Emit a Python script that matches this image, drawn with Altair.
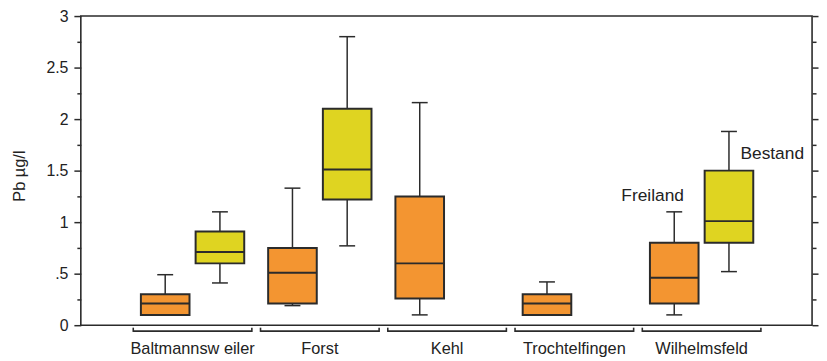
import altair as alt
import pandas as pd

# ---- data ----
sites = ["Baltmannsw eiler", "Forst", "Kehl", "Trochtelfingen", "Wilhelmsfeld"]
series = ["Freiland", "Bestand"]
series_colors = ["#F39531", "#DFD421"]

box_site = ["Baltmannsw eiler", "Baltmannsw eiler", "Forst", "Forst",
            "Kehl", "Trochtelfingen", "Wilhelmsfeld", "Wilhelmsfeld"]
box_series = ["Freiland", "Bestand", "Freiland", "Bestand",
              "Freiland", "Freiland", "Freiland", "Bestand"]
box_min = [0.10, 0.41, 0.19, 0.77, 0.10, 0.10, 0.10, 0.52]
box_q1 = [0.10, 0.60, 0.21, 1.22, 0.26, 0.10, 0.21, 0.80]
box_median = [0.21, 0.71, 0.51, 1.51, 0.60, 0.21, 0.46, 1.01]
box_q3 = [0.30, 0.91, 0.75, 2.10, 1.25, 0.30, 0.80, 1.50]
box_max = [0.49, 1.10, 1.33, 2.80, 2.16, 0.42, 1.10, 1.88]

y_ticks = [0, 0.25, 0.5, 0.75, 1, 1.25, 1.5, 1.75, 2, 2.25, 2.5, 2.75, 3]

note_text = ["Freiland", "Bestand"]
note_x = [3.615, 4.555]
note_y = [1.207, 1.61]

# ---- layout helpers ----
W, H = 738, 312
OFF = {"Freiland": -0.215, "Bestand": 0.215}
BOX_HALF = 0.191
CAP_HALF = 0.0625
BR_HALF = 0.466
INK = "#2b2b2b"
FONT = "Liberation Sans"

boxes = pd.DataFrame({
    "site": box_site, "series": box_series, "min": box_min, "q1": box_q1,
    "median": box_median, "q3": box_q3, "max": box_max,
})
boxes["pos"] = [sites.index(s) + OFF[g] for s, g in zip(box_site, box_series)]
boxes["bl"] = boxes["pos"] - BOX_HALF
boxes["br"] = boxes["pos"] + BOX_HALF
boxes["cl"] = boxes["pos"] - CAP_HALF
boxes["cr"] = boxes["pos"] + CAP_HALF

groups = pd.DataFrame({"site": sites, "idx": list(range(len(sites)))})
groups["lo"] = groups["idx"] - BR_HALF
groups["hi"] = groups["idx"] + BR_HALF

notes = pd.DataFrame({"text": note_text, "x": note_x, "y": note_y})

xs = alt.Scale(domain=[-0.878, 4.868], nice=False, zero=False)
ys = alt.Scale(domain=[0, 3], nice=False, zero=False)

tick_size = {"condition": {"test": "datum.value % 0.5 != 0", "value": 4}, "value": 7}

left_axis = alt.Axis(
    values=y_ticks, orient="left", domain=False, grid=False,
    tickSize=tick_size, tickColor=INK, tickWidth=1.5,
    labelExpr="datum.value % 0.5 != 0 ? '' : (datum.value == 0.5 ? '.5' : '' + datum.value)",
    labelFont=FONT, labelFontSize=16, labelColor="#222", labelPadding=6,
    title="Pb µg/l", titleFont=FONT, titleFontSize=16.5, titleFontWeight="normal",
    titleColor="#222", titleAngle=270, titleAlign="center", titleBaseline="middle",
    titleX=-61.5, titleY=161,
)
right_axis = alt.Axis(
    values=y_ticks, orient="right", domain=False, grid=False, labels=False,
    tickSize={"condition": {"test": "datum.value % 0.5 != 0", "value": 4}, "value": 6},
    tickColor=INK, tickWidth=1.5, title=None,
)

base = alt.Chart(boxes)

whisker = base.mark_rule(color=INK, strokeWidth=1.5).encode(
    x=alt.X("pos:Q", scale=xs, axis=None),
    y=alt.Y("min:Q", scale=ys, axis=left_axis),
    y2="max:Q",
)
cap_lo = base.mark_rule(color=INK, strokeWidth=1.5).encode(
    x=alt.X("cl:Q", scale=xs, axis=None), x2="cr:Q",
    y=alt.Y("min:Q", scale=ys, axis=None),
)
cap_hi = base.mark_rule(color=INK, strokeWidth=1.5).encode(
    x=alt.X("cl:Q", scale=xs, axis=None), x2="cr:Q",
    y=alt.Y("max:Q", scale=ys, axis=None),
)
box = base.mark_rect(stroke=INK, strokeWidth=2).encode(
    x=alt.X("bl:Q", scale=xs, axis=None), x2="br:Q",
    y=alt.Y("q1:Q", scale=ys, axis=None), y2="q3:Q",
    color=alt.Color("series:N", scale=alt.Scale(domain=series, range=series_colors), legend=None),
)
median = base.mark_rule(color=INK, strokeWidth=2).encode(
    x=alt.X("bl:Q", scale=xs, axis=None), x2="br:Q",
    y=alt.Y("median:Q", scale=ys, axis=right_axis),
)

gbase = alt.Chart(groups)
br_h = gbase.mark_rule(color=INK, strokeWidth=1.6).encode(
    x=alt.X("lo:Q", scale=xs, axis=None), x2="hi:Q", y=alt.value(H + 6),
)
br_l = gbase.mark_rule(color=INK, strokeWidth=1.6).encode(
    x=alt.X("lo:Q", scale=xs, axis=None), y=alt.value(H + 2.5), y2=alt.value(H + 6.8),
)
br_r = gbase.mark_rule(color=INK, strokeWidth=1.6).encode(
    x=alt.X("hi:Q", scale=xs, axis=None), y=alt.value(H + 2.5), y2=alt.value(H + 6.8),
)
site_lbl = gbase.mark_text(font=FONT, fontSize=16.5, color="#222", baseline="alphabetic").encode(
    x=alt.X("idx:Q", scale=xs, axis=None), y=alt.value(H + 29.5), text="site:N",
)

note = alt.Chart(notes).mark_text(font=FONT, fontSize=17.5, color="#222", baseline="alphabetic").encode(
    x=alt.X("x:Q", scale=xs, axis=None),
    y=alt.Y("y:Q", scale=ys, axis=None),
    text="text:N",
)

chart = alt.layer(
    whisker, cap_lo, cap_hi, box, median, br_h, br_l, br_r, site_lbl, note
).resolve_axis(y="independent").properties(
    width=W, height=H,
    autosize=alt.AutoSizeParams(type="none"),
    padding={"left": 73.5, "top": 6.5, "right": 7, "bottom": 34},
).configure_view(
    stroke=INK, strokeWidth=1.6
)

chart.save("out.html", embed_options={"renderer": "svg", "actions": False})
